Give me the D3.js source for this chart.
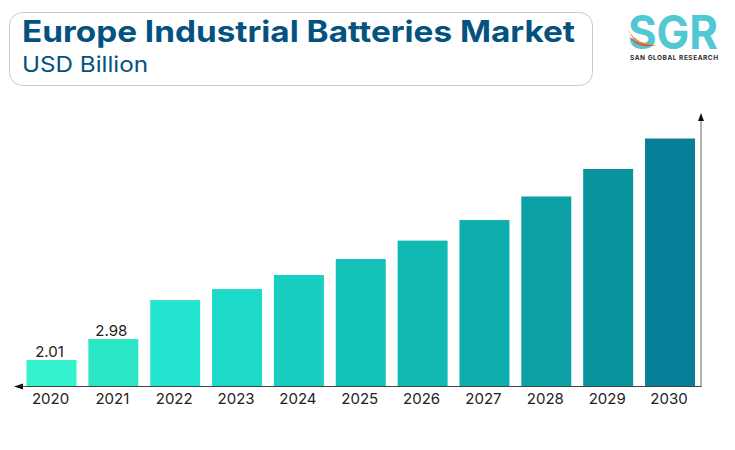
<!DOCTYPE html>
<html>
<head>
<meta charset="utf-8">
<script src="https://cdn.jsdelivr.net/npm/d3@7"></script>
<style>
  html, body { margin: 0; padding: 0; background: #fff; }
  svg { display: block; }
  text { font-family: Inter, "Noto Sans", sans-serif; }
</style>
</head>
<body>
<div id="chart"></div>
<script>
// Europe industrial batteries market, bars
const years = ['2020', '2021', '2022', '2023', '2024', '2025', '2026', '2027', '2028', '2029', '2030'];
const values = [2.01, 2.98, 4.78, 5.29, 5.94, 6.68, 7.53, 8.48, 9.57, 10.84, 12.25];
const barLabels = ['2.01', '2.98'];
const barColors = ['#33F2CD', '#2AE6C4', '#24E5CF', '#1DD9C8', '#17CEC0', '#13C3B8', '#10B9B2', '#0FADAB', '#0DA0A5', '#0A939E', '#087F98'];

const svg = d3.select('#chart')
  .append('svg')
  .attr('width', 735)
  .attr('height', 450);

const x = d3.scaleBand()
  .domain(years)
  .range([26.5, 695])
  .paddingInner(0.192)
  .paddingOuter(0);

// the picture's axis does not start at zero, baseline is about 0.81
const y = d3.scaleLinear()
  .domain([0.81, 12.25])
  .range([386, 138.5]);

// Title box
svg.append('rect')
  .attr('x', 9.5)
  .attr('y', 12.5)
  .attr('width', 583)
  .attr('height', 73)
  .attr('rx', 13)
  .attr('fill', '#fff')
  .attr('stroke', '#c9c9c9');

svg.append('text')
  .attr('x', 22)
  .attr('y', 42)
  .attr('textLength', 553)
  .attr('lengthAdjust', 'spacingAndGlyphs')
  .style('font-size', '29.5px')
  .style('font-weight', 700)
  .style('fill', '#04527F')
  .text('Europe Industrial Batteries Market');

svg.append('text')
  .attr('x', 22)
  .attr('y', 72)
  .attr('textLength', 126)
  .attr('lengthAdjust', 'spacingAndGlyphs')
  .style('font-size', '22px')
  .style('font-weight', 400)
  .style('fill', '#04527F')
  .text('USD Billion');

// Logo
const logo = svg.append('g').attr('class', 'logo');

logo.append('text')
  .attr('x', 628)
  .attr('y', 49)
  .attr('textLength', 90)
  .attr('lengthAdjust', 'spacingAndGlyphs')
  .style('font-size', '46px')
  .style('font-weight', 700)
  .style('fill', '#52C8D4')
  .text('SGR');

logo.append('path')
  .attr('d', 'M627 25 C630 38 640 44 657 45 C642 46 631 42 627 25 Z')
  .attr('fill', '#F28C28');
logo.append('path')
  .attr('d', 'M628 34 C632 42 642 45 657 45.5 C643 48 633 45 628 34 Z')
  .attr('fill', '#E8503A');

logo.append('text')
  .attr('x', 630)
  .attr('y', 60)
  .attr('textLength', 88)
  .attr('lengthAdjust', 'spacing')
  .style('font-size', '6.5px')
  .style('font-weight', 700)
  .style('fill', '#2b2b2b')
  .text('SAN GLOBAL RESEARCH');

// Bars
svg.selectAll('.bar')
  .data(values)
  .enter()
  .append('rect')
  .attr('class', 'bar')
  .attr('x', (d, i) => x(years[i]))
  .attr('y', d => y(d))
  .attr('width', x.bandwidth())
  .attr('height', d => y.range()[0] - y(d))
  .attr('fill', (d, i) => barColors[i]);

// Only the first two bars carry a label
svg.selectAll('.bar-label')
  .data(barLabels)
  .enter()
  .append('text')
  .attr('class', 'bar-label')
  .attr('x', (d, i) => x(years[i]) + x.bandwidth() / 2 - 2)
  .attr('y', (d, i) => y(values[i]) - 3.5)
  .attr('text-anchor', 'middle')
  .style('font-size', '15px')
  .style('fill', '#222')
  .text(d => d);

// X axis labels
const xAxis = d3.axisBottom(x).tickSize(0).tickPadding(7);
const xGroup = svg.append('g')
  .attr('class', 'x-axis')
  .attr('transform', 'translate(0, 386)')
  .call(xAxis);
xGroup.select('.domain').remove();
xGroup.selectAll('text')
  .attr('dx', '-1')
  .style('font-family', 'Inter, "Noto Sans", sans-serif')
  .style('font-size', '15px')
  .style('fill', '#222');

// Axis lines with arrow heads
svg.append('line')
  .attr('x1', 701).attr('y1', 386.5)
  .attr('x2', 701).attr('y2', 118)
  .attr('stroke', '#999')
  .attr('stroke-width', 1.5);
svg.append('line')
  .attr('x1', 701.5).attr('y1', 386.5)
  .attr('x2', 20).attr('y2', 386.5)
  .attr('stroke', '#444')
  .attr('stroke-width', 1);
svg.append('path')
  .attr('d', d3.line()([[701, 113], [698, 121], [704, 121]]) + 'Z')
  .attr('fill', '#111');
svg.append('path')
  .attr('d', d3.line()([[14, 386.5], [23, 383.5], [23, 389.5]]) + 'Z')
  .attr('fill', '#111');
</script>
</body>
</html>
